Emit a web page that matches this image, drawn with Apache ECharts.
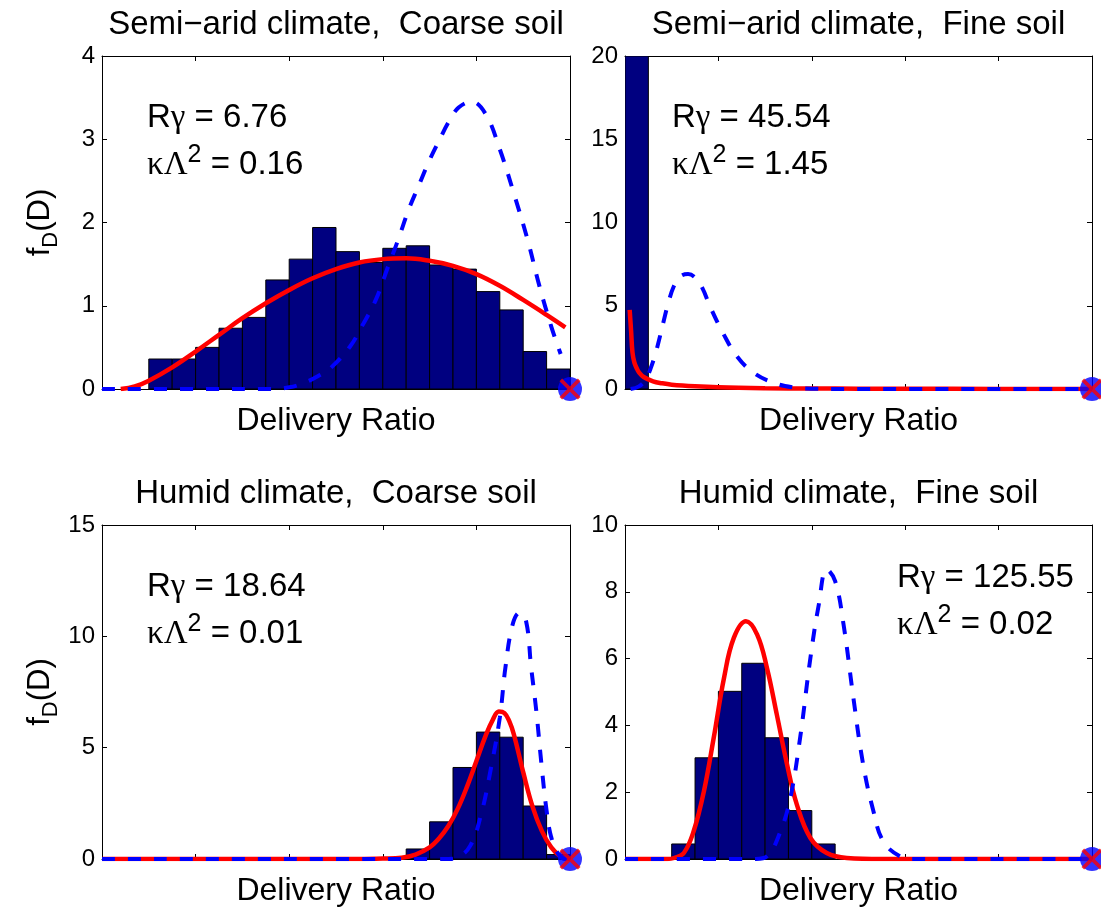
<!DOCTYPE html>
<html>
<head>
<meta charset="utf-8">
<title>Delivery ratio distributions</title>
<script src="https://cdn.jsdelivr.net/npm/echarts@6/dist/echarts.min.js"></script>
<style>
  html, body { margin: 0; padding: 0; background: #fff; }
  #chart { width: 1101px; height: 908px; }
</style>
</head>
<body>
<div id="chart"></div>
<script>
// ---- panel titles and annotations ----
const titles = [
  'Semi\u2212arid climate,  Coarse soil',
  'Semi\u2212arid climate,  Fine soil',
  'Humid climate,  Coarse soil',
  'Humid climate,  Fine soil'
];
const rGamma = ['6.76', '45.54', '18.64', '125.55'];
const kLambda2 = ['0.16', '1.45', '0.01', '0.02'];

// ---- y axis ranges ----
const yMax = [4, 20, 15, 10];
const yStep = [1, 5, 5, 2];

// ---- histogram: bin width, left edges, densities ----
const BIN = 0.05;
const binLeft1 = [0.10, 0.15, 0.20, 0.25, 0.30, 0.35, 0.40, 0.45, 0.50, 0.55, 0.60, 0.65, 0.70, 0.75, 0.80, 0.85, 0.90, 0.95];
const hist1 = [0.36, 0.36, 0.50, 0.73, 0.86, 1.31, 1.56, 1.94, 1.65, 1.52, 1.69, 1.72, 1.49, 1.44, 1.17, 0.95, 0.45, 0.24];
const binLeft2 = [0.00];
const hist2 = [20];
const binLeft3 = [0.60, 0.65, 0.70, 0.75, 0.80, 0.85, 0.90, 0.95];
const hist3 = [0.05, 0.45, 1.67, 4.11, 5.70, 5.47, 2.38, 0.20];
const binLeft4 = [0.10, 0.15, 0.20, 0.25, 0.30, 0.35, 0.40];
const hist4 = [0.45, 3.03, 5.02, 5.86, 3.63, 1.45, 0.45];

// ---- fitted density (solid red), [D, f] ----
const red1 = [[0.04, 0], [0.07, 0.03], [0.10, 0.10], [0.15, 0.26], [0.20, 0.45], [0.25, 0.65], [0.30, 0.85], [0.35, 1.03], [0.40, 1.19], [0.45, 1.33], [0.50, 1.44], [0.55, 1.52], [0.60, 1.56], [0.65, 1.57], [0.70, 1.54], [0.75, 1.48], [0.80, 1.38], [0.85, 1.24], [0.90, 1.07], [0.95, 0.89], [0.99, 0.74]];
const red2 = [[0.010, 4.75], [0.013, 3.5], [0.016, 2.2], [0.020, 1.6], [0.025, 1.25], [0.03, 1.0], [0.04, 0.72], [0.06, 0.46], [0.08, 0.34], [0.10, 0.26], [0.15, 0.16], [0.20, 0.10], [0.30, 0.05], [0.40, 0.03], [0.50, 0.02], [0.70, 0.01], [1.0, 0]];
const red3 = [[0.0, 0], [0.55, 0], [0.60, 0.02], [0.64, 0.06], [0.67, 0.20], [0.70, 0.52], [0.72, 0.92], [0.74, 1.48], [0.76, 2.25], [0.78, 3.25], [0.80, 4.40], [0.82, 5.55], [0.835, 6.25], [0.848, 6.62], [0.86, 6.55], [0.87, 6.20], [0.88, 5.60], [0.90, 3.90], [0.92, 2.35], [0.94, 1.25], [0.96, 0.52], [0.978, 0.15], [0.995, 0.02], [1.0, 0]];
const red4 = [[0.0, 0], [0.09, 0], [0.105, 0.03], [0.126, 0.18], [0.147, 0.83], [0.169, 2.03], [0.19, 3.63], [0.212, 5.42], [0.233, 6.62], [0.259, 7.12], [0.283, 6.72], [0.304, 5.72], [0.325, 4.33], [0.347, 2.83], [0.368, 1.63], [0.397, 0.63], [0.432, 0.18], [0.475, 0.03], [0.55, 0], [1.0, 0]];

// ---- reference density (dashed blue), [D, f] ----
const blue1 = [[0.0, 0], [0.20, 0], [0.36, 0], [0.40, 0.02], [0.43, 0.07], [0.46, 0.15], [0.49, 0.26], [0.53, 0.51], [0.555, 0.75], [0.585, 1.07], [0.61, 1.45], [0.632, 1.78], [0.655, 2.15], [0.675, 2.42], [0.70, 2.75], [0.72, 2.98], [0.74, 3.20], [0.762, 3.38], [0.79, 3.45], [0.82, 3.30], [0.85, 2.88], [0.88, 2.35], [0.91, 1.78], [0.935, 1.23], [0.96, 0.75], [0.98, 0.42]];
const blue2 = [[0.012, 0], [0.03, 0.16], [0.045, 0.6], [0.055, 1.25], [0.065, 2.1], [0.073, 2.95], [0.083, 4.1], [0.093, 5.2], [0.105, 6.2], [0.118, 6.75], [0.135, 6.9], [0.15, 6.7], [0.165, 6.1], [0.183, 4.9], [0.21, 3.35], [0.24, 1.95], [0.276, 0.96], [0.32, 0.36], [0.36, 0.10], [0.40, 0.02], [0.45, 0], [1.0, 0]];
const blue3 = [[0.0, 0], [0.74, 0], [0.76, 0.07], [0.787, 0.6], [0.81, 2.0], [0.83, 3.96], [0.85, 6.35], [0.862, 8.6], [0.877, 10.5], [0.892, 11.06], [0.906, 10.7], [0.917, 8.6], [0.928, 6.65], [0.939, 4.26], [0.95, 2.17], [0.96, 0.97], [0.975, 0.22], [0.99, 0], [1.0, 0]];
const blue4 = [[0.0, 0], [0.28, 0], [0.304, 0.08], [0.333, 0.83], [0.354, 1.83], [0.375, 3.63], [0.397, 6.02], [0.415, 7.62], [0.432, 8.67], [0.45, 8.32], [0.468, 7.02], [0.489, 4.83], [0.51, 2.83], [0.532, 1.43], [0.553, 0.53], [0.589, 0.08], [0.62, 0], [1.0, 0]];

// ---- end point marker at D = 1 ----
const endPoint = [1, 0];

const binLefts = [binLeft1, binLeft2, binLeft3, binLeft4];
const hists = [hist1, hist2, hist3, hist4];
const reds = [red1, red2, red3, red4];
const blues = [blue1, blue2, blue3, blue4];

// ---- layout ----
const colLeft = [102, 625];
const colWidth = [468, 467];
const rowTop = [56, 525];
const rowHeight = [333, 334];
const SANS = '"Liberation Sans", Arial, Helvetica, sans-serif';
const SERIF = '"Liberation Serif", "Times New Roman", serif';
const NAVY = '#000080';

const grids = [], xAxes = [], yAxes = [], series = [], graphics = [];

function histItem(params, api) {
  const a = api.coord([api.value(0), api.value(2)]);
  const b = api.coord([api.value(1), 0]);
  return {
    type: 'rect',
    shape: { x: a[0], y: a[1], width: b[0] - a[0], height: b[1] - a[1] },
    style: { fill: NAVY, stroke: '#000', lineWidth: 1 }
  };
}

const crossPath = 'path://M0,2.5L2.5,0L10,7.5L17.5,0L20,2.5L12.5,10L20,17.5L17.5,20L10,12.5L2.5,20L0,17.5L7.5,10Z';

for (let i = 0; i < 4; i++) {
  const r = Math.floor(i / 2), c = i % 2;
  const left = colLeft[c], top = rowTop[r], w = colWidth[c], h = rowHeight[r];
  grids.push({ left: left, top: top, width: w, height: h, containLabel: false });

  const baseX = {
    gridIndex: i, type: 'value', min: 0, max: 1, interval: 0.2,
    axisLine: { show: true, onZero: false, lineStyle: { color: '#000', width: 1 } },
    axisTick: { show: true, inside: true, length: 5, lineStyle: { color: '#000', width: 1 } },
    axisLabel: { show: false },
    splitLine: { show: false }
  };
  xAxes.push(Object.assign({}, baseX, { position: 'bottom' }));
  xAxes.push(Object.assign({}, baseX, { position: 'top' }));

  const baseY = {
    gridIndex: i, type: 'value', min: 0, max: yMax[i], interval: yStep[i],
    axisLine: { show: true, onZero: false, lineStyle: { color: '#000', width: 1 } },
    axisTick: { show: true, inside: true, length: 5, lineStyle: { color: '#000', width: 1 } },
    splitLine: { show: false }
  };
  yAxes.push(Object.assign({}, baseY, {
    position: 'left',
    axisLabel: { show: true, color: '#000', fontSize: 24, fontFamily: SANS, margin: 7 }
  }));
  yAxes.push(Object.assign({}, baseY, { position: 'right', axisLabel: { show: false } }));

  const xi = 2 * i, yi = 2 * i;
  series.push({
    type: 'custom', xAxisIndex: xi, yAxisIndex: yi, clip: true, z: 1,
    renderItem: histItem,
    data: binLefts[i].map((b, k) => [b, b + BIN, hists[i][k]])
  });
  series.push({
    type: 'line', xAxisIndex: xi, yAxisIndex: yi, z: 2,
    data: reds[i], showSymbol: false, smooth: 0.4, clip: true,
    lineStyle: { color: '#ff0000', width: 4.5 }
  });
  series.push({
    type: 'line', xAxisIndex: xi, yAxisIndex: yi, z: 3,
    data: blues[i], showSymbol: false, smooth: 0.4, clip: true,
    lineStyle: { color: '#0000ff', width: 4, type: [13, 13], cap: 'butt' }
  });
  series.push({
    type: 'scatter', xAxisIndex: xi, yAxisIndex: yi, z: 4, clip: false,
    data: [endPoint], symbol: 'circle', symbolSize: 24,
    itemStyle: { color: '#0000ff' }, silent: true
  });
  series.push({
    type: 'scatter', xAxisIndex: xi, yAxisIndex: yi, z: 5, clip: false,
    data: [endPoint], symbol: crossPath, symbolSize: 21,
    itemStyle: { color: '#ff0000' }, silent: true
  });

  const cx = left + w / 2;
  // panel title
  graphics.push({
    type: 'text', x: cx, y: top - 31, z: 10,
    style: { text: titles[i], fill: '#000', font: '33px ' + SANS, align: 'center', verticalAlign: 'middle' }
  });
  // x axis title
  graphics.push({
    type: 'text', x: cx, y: top + h + 32, z: 10,
    style: { text: 'Delivery Ratio', fill: '#000', font: '32px ' + SANS, align: 'center', verticalAlign: 'middle' }
  });
}

// y axis titles, left column only
for (let r = 0; r < 2; r++) {
  graphics.push({
    type: 'text', x: 40, y: rowTop[r] + rowHeight[r] / 2, rotation: Math.PI / 2, z: 10,
    style: {
      text: '{t|f}{s|D}{t|(D)}', align: 'center', verticalAlign: 'middle',
      rich: {
        t: { fontSize: 31, fontFamily: SANS, fill: '#000', lineHeight: 44 },
        s: { fontSize: 22, fontFamily: SANS, fill: '#000', verticalAlign: 'bottom' }
      }
    }
  });
}

// parameter annotations inside each panel
const annoPos = [[147, 118], [672, 118], [147, 587], [897, 578]];
const annoRich = {
  t: { fontSize: 33, fontFamily: SANS, fill: '#000', lineHeight: 44 },
  g: { fontSize: 33, fontFamily: SERIF, fill: '#000', lineHeight: 44 },
  s: { fontSize: 25, fontFamily: SANS, fill: '#000', verticalAlign: 'top' }
};
for (let i = 0; i < 4; i++) {
  const p = annoPos[i];
  graphics.push({
    type: 'text', x: p[0], y: p[1], z: 10,
    style: { text: '{t|R}{g|\u03b3}{t| = ' + rGamma[i] + '}', align: 'left', verticalAlign: 'middle', rich: annoRich }
  });
  graphics.push({
    type: 'text', x: p[0], y: p[1] + 47, z: 10,
    style: { text: '{g|\u03ba\u039b}{s|2}{t| = ' + kLambda2[i] + '}', align: 'left', verticalAlign: 'middle', rich: annoRich }
  });
}

const chart = echarts.init(document.getElementById('chart'), null, { renderer: 'canvas' });
chart.setOption({
  animation: false,
  backgroundColor: '#fff',
  grid: grids,
  xAxis: xAxes,
  yAxis: yAxes,
  series: series,
  graphic: graphics
});
</script>
</body>
</html>
